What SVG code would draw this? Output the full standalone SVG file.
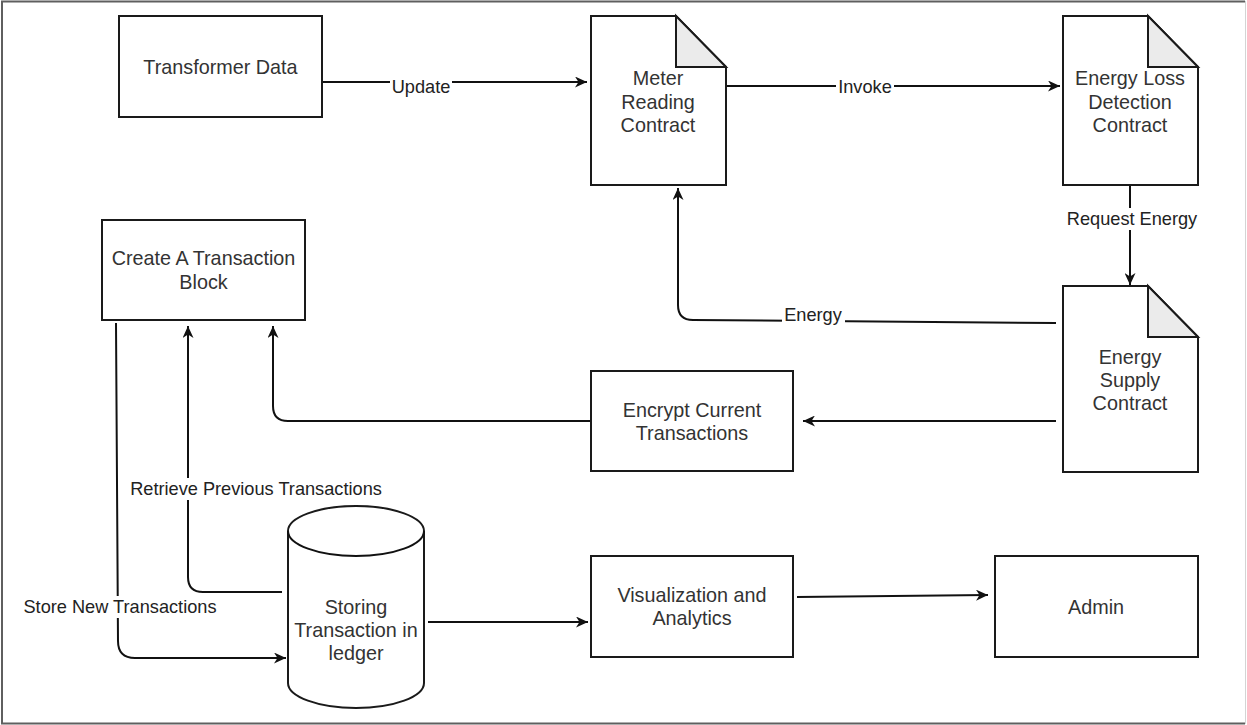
<svg xmlns="http://www.w3.org/2000/svg" width="1247" height="725" viewBox="0 0 1247 725">
  <style>
    .box { fill: #ffffff; stroke: #1a1a1a; stroke-width: 2; }
    .fold { fill: #ebebeb; stroke: #1a1a1a; stroke-width: 2; stroke-linejoin: miter; }
    .edge { fill: none; stroke: #111111; stroke-width: 2; }
    .node-text { font-family: "Liberation Sans", Arial, sans-serif; font-size: 19.8px; fill: #333333; text-anchor: middle; }
    .label { font-family: "Liberation Sans", Arial, sans-serif; font-size: 18.2px; fill: #222222; text-anchor: middle; }
    .label-bg { fill: #ffffff; stroke: none; }
  </style>
  <defs>
    <marker id="arrow" viewBox="0 0 12 11" refX="12" refY="5.5" markerWidth="12" markerHeight="11" markerUnits="userSpaceOnUse" orient="auto">
      <path d="M0,0 L12,5.5 L0,11 L3.5,5.5 Z" fill="#111111"/>
    </marker>
  </defs>

  <rect width="1247" height="725" fill="#ffffff"/>
  <!-- page frame -->
  <path d="M1245,1.5 H2 V723.5 H1245" fill="none" stroke="#5f5f5f" stroke-width="2"/>
  <line x1="1245.5" y1="1" x2="1245.5" y2="724" stroke="#d4d4d4" stroke-width="1"/>

  <!-- connectors -->
  <g id="connectors">
    <path class="edge" d="M322,82 H587" marker-end="url(#arrow)"/>
    <path class="edge" d="M726,86 H1060" marker-end="url(#arrow)"/>
    <path class="edge" d="M1130,185 V285" marker-end="url(#arrow)"/>
    <path class="edge" d="M1056,323 L693,320 Q678,320 678,305 V188" marker-end="url(#arrow)"/>
    <path class="edge" d="M1056,421 H803" marker-end="url(#arrow)"/>
    <path class="edge" d="M591,421 H288 Q273,421 273,406 V326" marker-end="url(#arrow)"/>
    <path class="edge" d="M282,592 H203 Q188,592 188,577 V326" marker-end="url(#arrow)"/>
    <path class="edge" d="M116,323 L118,641 Q118,658 135,658 H286" marker-end="url(#arrow)"/>
    <path class="edge" d="M428,622 H588" marker-end="url(#arrow)"/>
    <path class="edge" d="M797,597 L988,595" marker-end="url(#arrow)"/>

    <!-- edge labels -->
    <rect class="label-bg" x="390" y="76" width="62" height="20"/>
    <text class="label" x="421" y="93">Update</text>
    <rect class="label-bg" x="836" y="76" width="58" height="20"/>
    <text class="label" x="865" y="93">Invoke</text>
    <rect class="label-bg" x="1064" y="208" width="136" height="22"/>
    <text class="label" x="1132" y="225">Request Energy</text>
    <rect class="label-bg" x="782" y="305" width="63" height="22"/>
    <text class="label" x="813" y="321">Energy</text>
    <rect class="label-bg" x="126" y="478" width="260" height="22"/>
    <text class="label" x="256" y="495">Retrieve Previous Transactions</text>
    <rect class="label-bg" x="20" y="596" width="200" height="22"/>
    <text class="label" x="120" y="613">Store New Transactions</text>
  </g>

  <!-- nodes -->
  <g id="transformer-data">
    <rect class="box" x="119" y="16" width="203" height="101"/>
    <text class="node-text" x="220.5" y="74">Transformer Data</text>
  </g>

  <g id="meter-reading-contract">
    <path class="box" d="M591,16 H676 L726,67 V185 H591 Z"/>
    <path class="fold" d="M676,16 V67 H726 Z"/>
    <text class="node-text" x="658" y="85">Meter</text>
    <text class="node-text" x="658" y="109">Reading</text>
    <text class="node-text" x="658" y="132">Contract</text>
  </g>

  <g id="energy-loss-detection-contract">
    <path class="box" d="M1063,16 H1148 L1198,67 V185 H1063 Z"/>
    <path class="fold" d="M1148,16 V67 H1198 Z"/>
    <text class="node-text" x="1130" y="85">Energy Loss</text>
    <text class="node-text" x="1130" y="109">Detection</text>
    <text class="node-text" x="1130" y="132">Contract</text>
  </g>

  <g id="energy-supply-contract">
    <path class="box" d="M1063,286 H1148 L1198,337 V472 H1063 Z"/>
    <path class="fold" d="M1148,286 V337 H1198 Z"/>
    <text class="node-text" x="1130" y="364">Energy</text>
    <text class="node-text" x="1130" y="387">Supply</text>
    <text class="node-text" x="1130" y="410">Contract</text>
  </g>

  <g id="create-transaction-block">
    <rect class="box" x="102" y="220" width="203" height="100"/>
    <text class="node-text" x="203.5" y="265">Create A Transaction</text>
    <text class="node-text" x="203.5" y="289">Block</text>
  </g>

  <g id="encrypt-current-transactions">
    <rect class="box" x="591" y="371" width="202" height="100"/>
    <text class="node-text" x="692" y="417">Encrypt Current</text>
    <text class="node-text" x="692" y="440">Transactions</text>
  </g>

  <g id="ledger-storage">
    <path class="box" d="M288,531 V683 A68,25 0 0 0 424,683 V531 A68,25 0 0 0 288,531 Z"/>
    <path class="edge" d="M288,531 A68,25 0 0 0 424,531"/>
    <text class="node-text" x="356" y="614">Storing</text>
    <text class="node-text" x="356" y="637">Transaction in</text>
    <text class="node-text" x="356" y="660">ledger</text>
  </g>

  <g id="visualization-analytics">
    <rect class="box" x="591" y="556" width="202" height="101"/>
    <text class="node-text" x="692" y="602">Visualization and</text>
    <text class="node-text" x="692" y="625">Analytics</text>
  </g>

  <g id="admin">
    <rect class="box" x="995" y="556" width="203" height="101"/>
    <text class="node-text" x="1096" y="614">Admin</text>
  </g>
</svg>
